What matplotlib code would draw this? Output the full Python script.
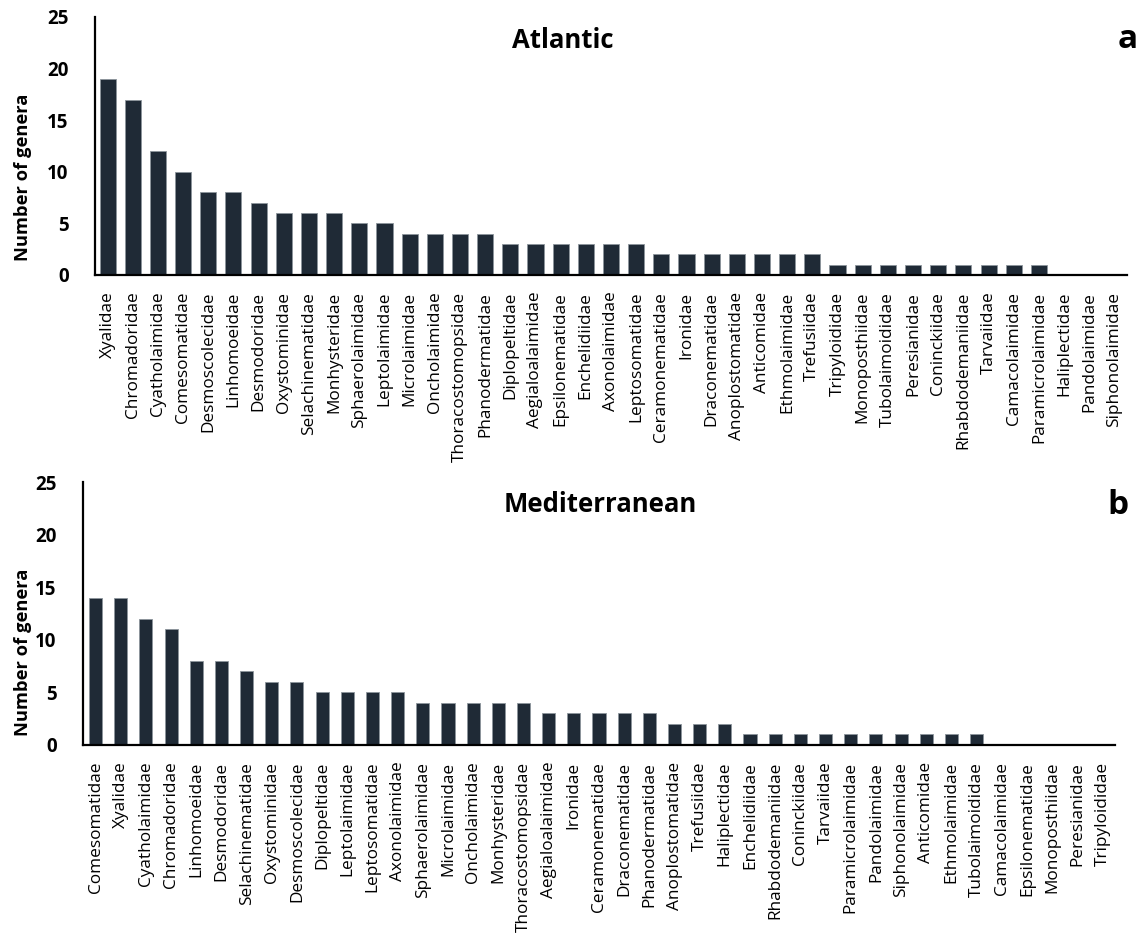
import matplotlib
matplotlib.use("Agg")
import matplotlib.pyplot as plt

plt.rcParams['font.family'] = ['Open Sans', 'DejaVu Sans']

atl_families = [
    "Xyalidae", "Chromadoridae", "Cyatholaimidae", "Comesomatidae", "Desmoscolecidae",
    "Linhomoeidae", "Desmodoridae", "Oxystominidae", "Selachinematidae", "Monhysteridae",
    "Sphaerolaimidae", "Leptolaimidae", "Microlaimidae", "Oncholaimidae", "Thoracostomopsidae",
    "Phanodermatidae", "Diplopeltidae", "Aegialoalaimidae", "Epsilonematidae", "Enchelidiidae",
    "Axonolaimidae", "Leptosomatidae", "Ceramonematidae", "Ironidae", "Draconematidae",
    "Anoplostomatidae", "Anticomidae", "Ethmolaimidae", "Trefusiidae", "Tripyloididae",
    "Monoposthiidae", "Tubolaimoididae", "Peresianidae", "Coninckiidae", "Rhabdodemaniidae",
    "Tarvaiidae", "Camacolaimidae", "Paramicrolaimidae", "Haliplectidae", "Pandolaimidae",
    "Siphonolaimidae",
]
atl_genera = [19, 17, 12, 10, 8, 8, 7, 6, 6, 6, 5, 5, 4, 4, 4, 4, 3, 3, 3, 3, 3, 3,
              2, 2, 2, 2, 2, 2, 2, 1, 1, 1, 1, 1, 1, 1, 1, 1, 0, 0, 0]

med_families = [
    "Comesomatidae", "Xyalidae", "Cyatholaimidae", "Chromadoridae", "Linhomoeidae",
    "Desmodoridae", "Selachinematidae", "Oxystominidae", "Desmoscolecidae", "Diplopeltidae",
    "Leptolaimidae", "Leptosomatidae", "Axonolaimidae", "Sphaerolaimidae", "Microlaimidae",
    "Oncholaimidae", "Monhysteridae", "Thoracostomopsidae", "Aegialoalaimidae", "Ironidae",
    "Ceramonematidae", "Draconematidae", "Phanodermatidae", "Anoplostomatidae", "Trefusiidae",
    "Haliplectidae", "Enchelidiidae", "Rhabdodemaniidae", "Coninckiidae", "Tarvaiidae",
    "Paramicrolaimidae", "Pandolaimidae", "Siphonolaimidae", "Anticomidae", "Ethmolaimidae",
    "Tubolaimoididae", "Camacolaimidae", "Epsilonematidae", "Monoposthiidae", "Peresianidae",
    "Tripyloididae",
]
med_genera = [14, 14, 12, 11, 8, 8, 7, 6, 6, 5, 5, 5, 5, 4, 4, 4, 4, 4, 3, 3, 3, 3, 3,
              2, 2, 2, 1, 1, 1, 1, 1, 1, 1, 1, 1, 1, 0, 0, 0, 0, 0]

yticks = [0, 5, 10, 15, 20, 25]
BAR = "#1f2a36"
W, H = 1141, 934

fig = plt.figure(figsize=(W / 100, H / 100), dpi=100)


def panel(rect, names, values, width, title, letter, title_x, letter_x, title_y,
          ylab_x, ylab_y):
    ax = fig.add_axes(rect)
    x = list(range(len(names)))
    ax.bar(x, values, width=width, color=BAR, edgecolor="#8c949c", linewidth=0.6)
    ax.set_xlim(-0.5, len(names) - 0.5)
    ax.set_ylim(0, 25)
    ax.set_yticks(yticks)
    ax.set_yticklabels([str(t) for t in yticks], fontsize=13.5, fontweight="bold")
    ax.set_xticks(x)
    ax.set_xticklabels(names, rotation=90, fontsize=12.4)
    ax.tick_params(axis="both", length=0)
    ax.tick_params(axis="y", pad=19)
    ax.tick_params(axis="x", pad=12)
    for s in ("top", "right"):
        ax.spines[s].set_visible(False)
    for s in ("left", "bottom"):
        ax.spines[s].set_linewidth(1.6)
        ax.spines[s].set_color("black")
    ax.set_ylabel("Number of genera", fontsize=13.2, fontweight="bold")
    ax.yaxis.set_label_coords((ylab_x - rect[0] * W) / (rect[2] * W), ylab_y)
    fig.text(title_x / W, 1 - title_y / H, title, ha="center", va="center",
             fontsize=18.5, fontweight="bold")
    fig.text(letter_x / W, 1 - title_y / H, letter, ha="center", va="center",
             fontsize=24, fontweight="bold")
    return ax


panel([95 / W, 1 - 275 / H, (1127 - 95) / W, (275 - 17) / H],
      atl_families, atl_genera, 0.64, "Atlantic", "a", 563, 1128, 40, 32, 0.38)
panel([83 / W, 1 - 745 / H, (1115 - 83) / W, (745 - 482) / H],
      med_families, med_genera, 0.52, "Mediterranean", "b", 600, 1118, 505, 32, 0.354)

fig.savefig("out.png", dpi=100, facecolor="white")
